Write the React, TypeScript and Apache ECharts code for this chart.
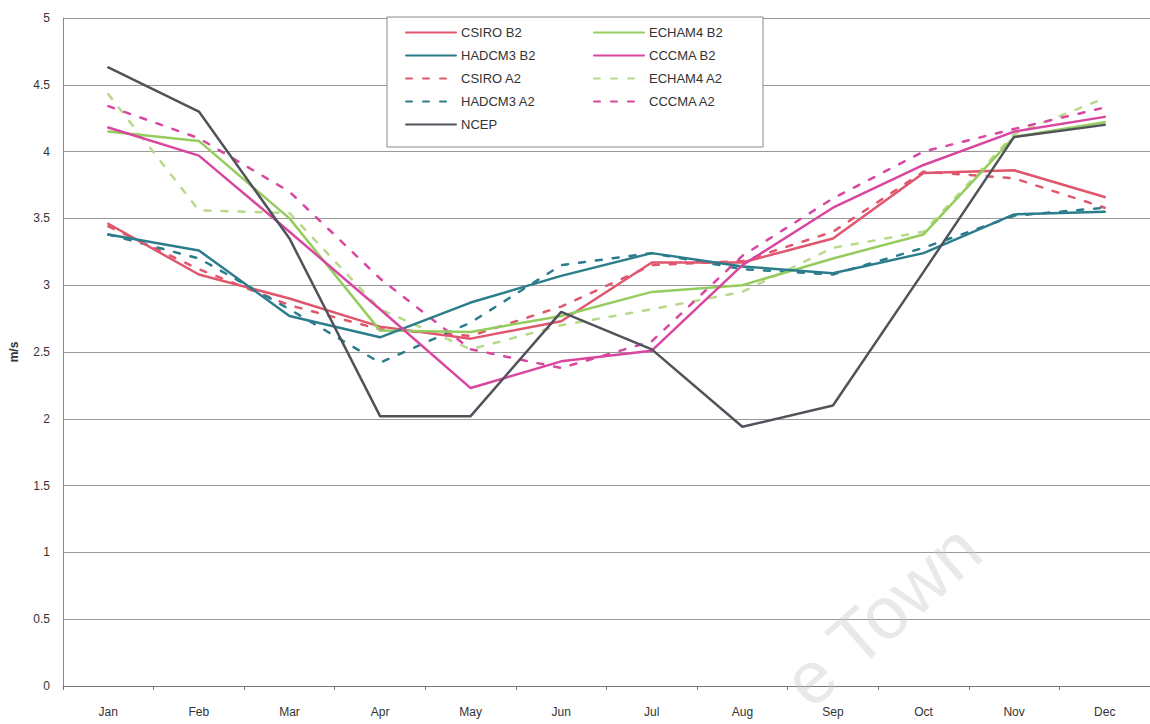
import React, { useEffect, useRef } from "react";
import * as echarts from "echarts";

const months = ["Jan", "Feb", "Mar", "Apr", "May", "Jun", "Jul", "Aug", "Sep", "Oct", "Nov", "Dec"];

const csiroB2 = [3.46, 3.08, 2.9, 2.69, 2.6, 2.73, 3.17, 3.17, 3.35, 3.84, 3.86, 3.66];
const hadcm3B2 = [3.38, 3.26, 2.77, 2.61, 2.87, 3.07, 3.24, 3.14, 3.09, 3.24, 3.53, 3.55];
const echam4B2 = [4.15, 4.08, 3.5, 2.66, 2.65, 2.77, 2.95, 3.0, 3.2, 3.38, 4.11, 4.22];
const cccmaB2 = [4.18, 3.97, 3.4, 2.82, 2.23, 2.43, 2.51, 3.15, 3.58, 3.9, 4.15, 4.26];
const csiroA2 = [3.44, 3.12, 2.85, 2.67, 2.62, 2.84, 3.15, 3.18, 3.4, 3.85, 3.8, 3.58];
const hadcm3A2 = [3.38, 3.2, 2.82, 2.42, 2.72, 3.15, 3.24, 3.12, 3.08, 3.28, 3.52, 3.58];
const echam4A2 = [4.43, 3.56, 3.54, 2.82, 2.52, 2.7, 2.82, 2.95, 3.28, 3.4, 4.13, 4.4];
const cccmaA2 = [4.34, 4.1, 3.7, 3.05, 2.52, 2.38, 2.58, 3.22, 3.65, 4.0, 4.17, 4.33];
const ncep = [4.63, 4.3, 3.35, 2.02, 2.02, 2.8, 2.52, 1.94, 2.1, 3.1, 4.11, 4.2];

const leftColumn = ["CSIRO B2", "HADCM3 B2", "CSIRO A2", "HADCM3 A2", "NCEP"];
const rightColumn = ["ECHAM4 B2", "CCCMA B2", "ECHAM4 A2", "CCCMA A2"];

const FONT = "'Liberation Sans', Arial, sans-serif";

const C_CSIRO = "#e0566c";
const C_HAD = "#2c7d8c";
const C_ECH = "#95cc5e";
const C_ECH_A2 = "#b8d98c";
const C_CCC = "#d9469f";
const C_NCEP = "#50535a";

function line(name: string, data: number[], color: string, dashed: boolean, z: number) {
  return {
    name,
    type: "line",
    data,
    symbol: "none",
    showSymbol: false,
    z,
    lineStyle: {
      color,
      width: 2.5,
      type: dashed ? [6, 11] : "solid",
      cap: "round",
    },
    itemStyle: { color },
  };
}

export default function App() {
  const ref = useRef<HTMLDivElement>(null);
  useEffect(() => {
    if (!ref.current) return;
    const chart = echarts.init(ref.current, null, { renderer: "svg" });
    const legendCommon = {
      orient: "vertical",
      top: 26,
      itemWidth: 50,
      itemHeight: 14,
      itemGap: 10,
      padding: 0,
      z: 10,
      itemStyle: { color: "transparent", borderWidth: 0, opacity: 0 },
      textStyle: { fontFamily: FONT, fontSize: 13, color: "#333" },
    };
    chart.setOption({
      animation: false,
      backgroundColor: "#ffffff",
      grid: { left: 58, top: 18, width: 1098, height: 668 },
      legend: [
        { ...legendCommon, left: 405, data: leftColumn },
        { ...legendCommon, left: 593, data: rightColumn },
      ],
      graphic: [
        {
          type: "rect",
          z: 3,
          shape: { x: 387, y: 17, width: 376, height: 130 },
          style: { fill: "#ffffff", stroke: "#8a8a8a", lineWidth: 1 },
        },
        {
          type: "text",
          z: 100,
          x: 882,
          y: 615,
          rotation: 0.72,
          style: {
            text: "e Town",
            font: `74px ${FONT}`,
            fill: "rgba(200,200,200,0.4)",
            textAlign: "center",
            textVerticalAlign: "middle",
          },
        },
      ],
      xAxis: {
        type: "category",
        data: months,
        boundaryGap: true,
        axisLine: { show: true, lineStyle: { color: "#777", width: 1 } },
        axisTick: { show: true, length: 4, lineStyle: { color: "#777" } },
        axisLabel: { fontFamily: FONT, fontSize: 12, color: "#333", margin: 20 },
        splitLine: { show: false },
      },
      yAxis: {
        type: "value",
        min: 0,
        max: 5,
        interval: 0.5,
        name: "m/s",
        nameLocation: "middle",
        nameRotate: 90,
        nameGap: 43,
        nameTextStyle: { fontFamily: FONT, fontSize: 12, color: "#333", fontWeight: "bold" },
        axisLine: { show: true, lineStyle: { color: "#888", width: 1 } },
        axisTick: { show: false },
        axisLabel: { fontFamily: FONT, fontSize: 12, color: "#333", margin: 13 },
        splitLine: { show: true, lineStyle: { color: "#999", width: 1 } },
      },
      series: [
        line("CSIRO B2", csiroB2, C_CSIRO, false, 3),
        line("ECHAM4 B2", echam4B2, C_ECH, false, 3),
        line("HADCM3 B2", hadcm3B2, C_HAD, false, 3),
        line("CCCMA B2", cccmaB2, C_CCC, false, 3),
        line("CSIRO A2", csiroA2, C_CSIRO, true, 2),
        line("ECHAM4 A2", echam4A2, C_ECH_A2, true, 2),
        line("HADCM3 A2", hadcm3A2, C_HAD, true, 2),
        line("CCCMA A2", cccmaA2, C_CCC, true, 2),
        line("NCEP", ncep, C_NCEP, false, 4),
      ],
    });
    return () => chart.dispose();
  }, []);
  return (
    <div
      ref={ref}
      style={{ position: "absolute", left: 0, top: 0, width: 1150, height: 724, background: "#fff" }}
    />
  );
}
